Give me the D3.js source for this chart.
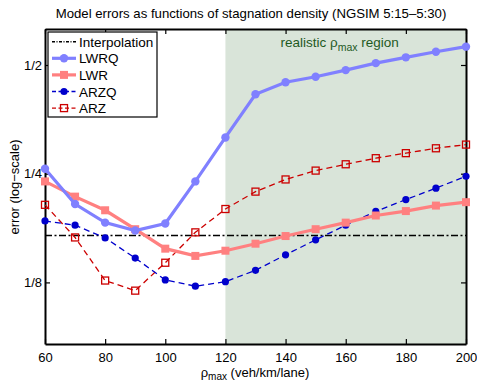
<!DOCTYPE html>
<html>
<head>
<meta charset="utf-8">
<script src="https://cdn.jsdelivr.net/npm/d3@7"></script>
<style>
  body { margin: 0; background: #fff; }
  text { font-family: "Liberation Sans", Arial, Helvetica, sans-serif; }
</style>
</head>
<body>
<div id="chart"></div>
<script>
// data
var rhoMax = [60, 70, 80, 90, 100, 110, 120, 130, 140, 150, 160, 170, 180, 190, 200];
var lwrq = [0.258, 0.206, 0.183, 0.174, 0.182, 0.238, 0.315, 0.415, 0.448, 0.464, 0.484, 0.506, 0.525, 0.544, 0.562];
var lwr  = [0.238, 0.216, 0.198, 0.1755, 0.155, 0.148, 0.153, 0.160, 0.168, 0.1755, 0.183, 0.1915, 0.197, 0.204, 0.2085];
var arzq = [0.185, 0.180, 0.166, 0.146, 0.127, 0.122, 0.1256, 0.135, 0.149, 0.164, 0.180, 0.1965, 0.212, 0.228, 0.246];
var arz  = [0.205, 0.1665, 0.1265, 0.1186, 0.1417, 0.172, 0.1996, 0.223, 0.241, 0.255, 0.2655, 0.276, 0.285, 0.294, 0.301];
var interpolation = 0.1685;
var xTicks = [60, 80, 100, 120, 140, 160, 180, 200];
var yTicks = [0.125, 0.25, 0.5];
var yTickLabels = ["1/8", "1/4", "1/2"];
var realisticFrom = 120;

// set the dimensions and margins of the graph
var margin = {top: 29, right: 11, bottom: 37, left: 45},
    width = 421,
    height = 315;

var svg = d3.select("#chart")
  .append("svg")
    .attr("width", 477)
    .attr("height", 381)
  .append("g")
    .attr("transform", "translate(" + margin.left + "," + margin.top + ")");

var x = d3.scaleLinear()
  .domain([60, 200])
  .range([0, width]);

var y = d3.scaleLog()
  .base(2)
  .domain([0.0844, 0.629])
  .range([height, 0]);

// shaded realistic region
svg.append("rect")
  .attr("x", x(realisticFrom))
  .attr("y", 0)
  .attr("width", x(200) - x(realisticFrom))
  .attr("height", height)
  .attr("fill", "#d9e4d9");

svg.append("text")
  .attr("x", (x(realisticFrom) + x(200)) / 2 - 6)
  .attr("y", 18)
  .attr("text-anchor", "middle")
  .attr("font-size", "13.5px")
  .attr("fill", "#1f5a1f")
  .call(function(t) {
    t.append("tspan").text("realistic \u03c1");
    t.append("tspan").attr("font-size", "10.5px").attr("dy", 4).text("max");
    t.append("tspan").attr("dy", -4).text(" region");
  });

// axes (MATLAB style: ticks inside, box all round)
svg.append("g")
  .attr("transform", "translate(0," + height + ")")
  .call(d3.axisBottom(x).tickValues(xTicks).tickSizeInner(-5).tickSizeOuter(0).tickPadding(8.5));
svg.append("g")
  .call(d3.axisTop(x).tickValues(xTicks).tickSizeInner(-5).tickSizeOuter(0).tickFormat(""));
svg.append("g")
  .call(d3.axisLeft(y).tickValues(yTicks).tickSizeInner(-5).tickSizeOuter(0).tickPadding(3)
    .tickFormat(function(d, i) { return yTickLabels[i]; }));
svg.append("g")
  .attr("transform", "translate(" + width + ",0)")
  .call(d3.axisRight(y).tickValues(yTicks).tickSizeInner(-5).tickSizeOuter(0).tickFormat(""));

svg.selectAll(".domain").attr("stroke", "#000").attr("stroke-width", 2);
svg.selectAll(".tick line").attr("stroke", "#000").attr("stroke-width", 1.2);
svg.selectAll(".tick text").attr("font-size", "13px").attr("fill", "#000")
  .attr("font-family", "Liberation Sans, Arial, sans-serif");

// interpolation reference line
svg.append("line")
  .attr("x1", x(60))
  .attr("x2", x(200))
  .attr("y1", y(interpolation))
  .attr("y2", y(interpolation))
  .attr("stroke", "#000")
  .attr("stroke-width", 1.5)
  .attr("stroke-dasharray", "7,2.5,2,2.5");

// series definitions
var series = [
  {name: "LWRQ", values: lwrq, color: "#8080ff", width: 3.2, dash: null, marker: "circle", fill: "#8080ff", size: 4.2},
  {name: "LWR", values: lwr, color: "#ff8080", width: 3.2, dash: null, marker: "square", fill: "#ff8080", size: 8},
  {name: "ARZQ", values: arzq, color: "#0000cc", width: 1.3, dash: "6,4", marker: "circle", fill: "#0000cc", size: 3.6},
  {name: "ARZ", values: arz, color: "#cc0000", width: 1.3, dash: "6,4", marker: "square", fill: "none", size: 7}
];

var line = d3.line()
  .x(function(d) { return x(d[0]); })
  .y(function(d) { return y(d[1]); });

function drawMarker(g, s, cx, cy) {
  if (s.marker == "circle") {
    g.append("circle")
      .attr("cx", cx).attr("cy", cy).attr("r", s.size)
      .attr("fill", s.fill);
  } else {
    g.append("rect")
      .attr("x", cx - s.size / 2).attr("y", cy - s.size / 2)
      .attr("width", s.size).attr("height", s.size)
      .attr("fill", s.fill)
      .attr("stroke", s.color)
      .attr("stroke-width", s.fill == "none" ? 1.3 : 0);
  }
}

// draw from back to front as in the original
[3, 2, 1, 0].forEach(function(k) {
  var s = series[k];
  var pts = rhoMax.map(function(r, i) { return [r, s.values[i]]; });
  svg.append("path")
    .datum(pts)
    .attr("fill", "none")
    .attr("stroke", s.color)
    .attr("stroke-width", s.width)
    .attr("stroke-dasharray", s.dash)
    .attr("d", line);
  var mg = svg.append("g");
  pts.forEach(function(p) { drawMarker(mg, s, x(p[0]), y(p[1])); });
});

// legend
var legend = svg.append("g").attr("transform", "translate(3,3)");
legend.append("rect")
  .attr("width", 109)
  .attr("height", 85)
  .attr("fill", "#fff")
  .attr("stroke", "#000")
  .attr("stroke-width", 1.2);

var entries = [{name: "Interpolation", color: "#000", width: 1.5, dash: "3,1.5,1,1.5"}].concat(series);
entries.forEach(function(s, i) {
  var ly = 9.7 + i * 16.6;
  legend.append("line")
    .attr("x1", 4).attr("x2", 28)
    .attr("y1", ly).attr("y2", ly)
    .attr("stroke", s.color)
    .attr("stroke-width", s.width)
    .attr("stroke-dasharray", s.name == "Interpolation" ? "3,1.5,1,1.5" : (s.dash ? "4,2.5" : null));
  if (s.marker) drawMarker(legend, s, 16, ly);
  legend.append("text")
    .attr("x", 31)
    .attr("y", ly + 5)
    .attr("font-size", "13.5px")
    .text(s.name);
});

// title and labels
var root = d3.select("#chart svg");
root.append("text")
  .attr("x", 251)
  .attr("y", 18)
  .attr("text-anchor", "middle")
  .attr("font-size", "13.2px")
  .text("Model errors as functions of stagnation density (NGSIM 5:15\u20135:30)");

root.append("text")
  .attr("x", 255)
  .attr("y", 377)
  .attr("text-anchor", "middle")
  .attr("font-size", "13px")
  .call(function(t) {
    t.append("tspan").text("\u03c1");
    t.append("tspan").attr("font-size", "10px").attr("dy", 3).text("max");
    t.append("tspan").attr("dy", -3).text(" (veh/km/lane)");
  });

root.append("text")
  .attr("transform", "translate(19,187) rotate(-90)")
  .attr("text-anchor", "middle")
  .attr("font-size", "13px")
  .text("error (log\u2212scale)");
</script>
</body>
</html>
